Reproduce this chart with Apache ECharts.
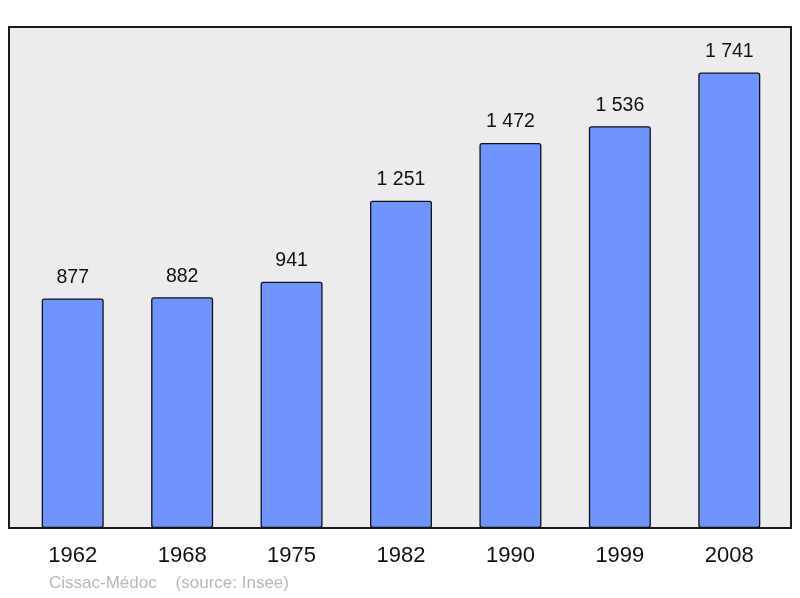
<!DOCTYPE html>
<html>
<head>
<meta charset="utf-8">
<script src="https://cdn.jsdelivr.net/npm/echarts@6/dist/echarts.min.js"></script>
<style>
  html, body { margin: 0; padding: 0; background: #fff; }
  #chart { width: 800px; height: 598px; }
</style>
</head>
<body>
<div id="chart"></div>
<script>
var years = ['1962', '1968', '1975', '1982', '1990', '1999', '2008'];
var population = [877, 882, 941, 1251, 1472, 1536, 1741];
var townName = 'Cissac-Médoc';
var sourceNote = '(source: Insee)';

// thousands with a space, like "1 741"
function fmt (v) {
  return String(v).replace(/\B(?=(\d{3})+(?!\d))/g, ' ');
}

var chart = echarts.init(document.getElementById('chart'));

var option = {
  animation: false,
  grid: [
    // frame only
    {
      left: 9, right: 9, top: 27, bottom: 70,
      show: true,
      backgroundColor: '#ececec',
      borderColor: '#1a1a1a',
      borderWidth: 2
    },
    // bars
    {
      left: 18, right: 16, top: 27, bottom: 70
    }
  ],
  xAxis: [
    { gridIndex: 0, type: 'value', show: false, min: 0, max: 1 },
    {
      gridIndex: 1,
      type: 'category',
      data: years,
      axisLine: { show: false },
      axisTick: { show: false },
      axisLabel: {
        color: '#111',
        fontSize: 22,
        fontFamily: 'Liberation Sans, Arial, sans-serif',
        margin: 17
      }
    }
  ],
  yAxis: [
    { gridIndex: 0, type: 'value', show: false, min: 0, max: 1 },
    {
      gridIndex: 1,
      type: 'value',
      min: 0,
      max: 1915,
      show: false
    }
  ],
  series: [
    {
      type: 'bar',
      xAxisIndex: 1,
      yAxisIndex: 1,
      data: population,
      barWidth: 62,
      itemStyle: {
        color: '#7094ff',
        borderColor: '#111',
        borderWidth: 1.3,
        borderRadius: 2
      },
      label: {
        show: true,
        position: 'top',
        distance: 11,
        color: '#111',
        fontSize: 19.5,
        fontFamily: 'Liberation Sans, Arial, sans-serif',
        formatter: function (p) { return fmt(p.value); }
      }
    }
  ],
  graphic: [
    {
      type: 'text',
      left: 49,
      top: 575,
      style: {
        text: townName + '    ' + sourceNote,
        fill: '#b8b8b8',
        fontSize: 17,
        fontFamily: 'Liberation Sans, Arial, sans-serif'
      }
    }
  ]
};

chart.setOption(option);
</script>
</body>
</html>
